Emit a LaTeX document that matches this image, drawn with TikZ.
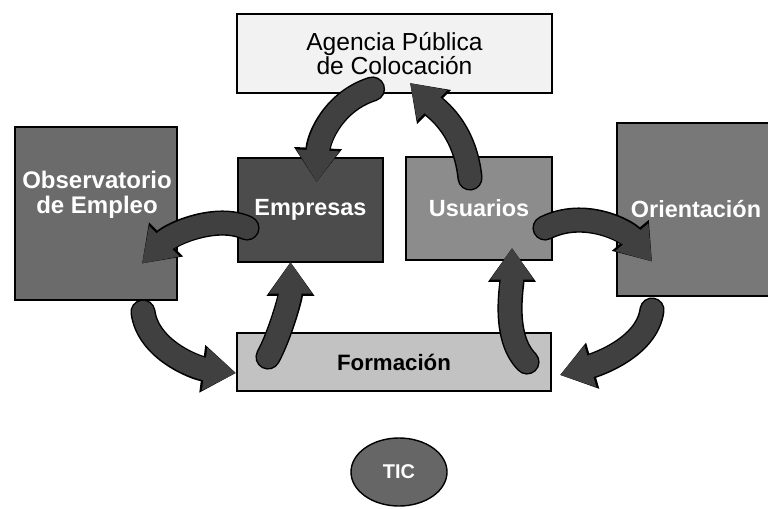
\documentclass[tikz,border=0pt]{standalone}
\usepackage{fontspec}
\setmainfont{Liberation Sans}
\usetikzlibrary{arrows.meta,shapes.geometric}
\definecolor{agencyfill}{gray}{0.95}
\definecolor{obsfill}{gray}{0.42}
\definecolor{empfill}{gray}{0.30}
\definecolor{usrfill}{gray}{0.55}
\definecolor{orifill}{gray}{0.47}
\definecolor{formfill}{gray}{0.76}
\definecolor{ticfill}{gray}{0.40}
\definecolor{arrowgray}{gray}{0.25}
\tikzset{
	box/.style={draw=black, line width=1.2pt, inner sep=0pt, outer sep=0pt},
	whitetext/.style={text=white, font=\fontsize{20}{22}\selectfont\bfseries, align=center},
	flow/.style={draw=arrowgray, line width=19pt, line cap=round, -{Triangle[length=27pt,width=35pt]},
		preaction={draw=black, line width=21.5pt, line cap=round, -{Triangle[length=29pt,width=39pt]}}}
}

\begin{document}
\begin{tikzpicture}[x=0.03cm, y=-0.03cm]
		\useasboundingbox (0,0) rectangle (768,508);
		\node[box, fill=agencyfill, minimum width=9.45cm, minimum height=2.37cm, align=center, font=\fontsize{21}{20}\selectfont] (agency) at (394.5,53.5) {Agencia P\'ublica\\de Colocaci\'on};
		\node[box, fill=obsfill, minimum width=4.86cm, minimum height=5.19cm] (obs) at (96,213.5) {};
		\node[whitetext, font=\fontsize{20.5}{21}\selectfont\bfseries] (obslabel) at (97,195) {Observatorio\\de Empleo};
		\node[box, fill=empfill, minimum width=4.35cm, minimum height=3.12cm, whitetext] (emp) at (310.5,210) {Empresas};
		\node[box, fill=usrfill, minimum width=4.38cm, minimum height=3.09cm, whitetext] (usr) at (479,208.5) {Usuarios};
		\node[box, fill=orifill, minimum width=4.74cm, minimum height=5.19cm, whitetext] (ori) at (696,209.5) {Orientaci\'on};
		\node[box, fill=formfill, minimum width=9.42cm, minimum height=1.74cm, font=\fontsize{19}{20}\selectfont\bfseries] (form) at (394,362) {Formaci\'on};
		\node[box, ellipse, fill=ticfill, minimum width=2.88cm, minimum height=2.04cm, whitetext, font=\fontsize{17}{18}\selectfont\bfseries] (tic) at (399,472) {TIC};
		\draw[flow] ([shift={(-22,-4)}]agency.south) .. controls +(-38,12) and +(2,-45) .. ([shift={(6,24)}]emp.north);
		\draw[flow] ([shift={(-9,21)}]usr.north) .. controls +(-5,-50) and +(25,25) .. ([shift={(15.5,-10)}]agency.south);
		\draw[flow] ([shift={(9,18)}]emp.west) .. controls +(-30,-14) and +(30,-30) .. ([shift={(-35,50)}]obs.east);
		\draw[flow] ([shift={(47,12)}]obs.south) .. controls +(5,38) and +(-40,-5) .. ([shift={(-1,11)}]form.west);
		\draw[flow] ([shift={(-126,24)}]form.north) .. controls +(12,-22) and +(0,35) .. ([shift={(-20,0)}]emp.south);
		\draw[flow] ([shift={(-7,19.5)}]usr.east) .. controls +(40,-20) and +(-25,-30) .. ([shift={(35,52)}]ori.west);
		\draw[flow] ([shift={(-44,14)}]ori.south) .. controls +(-5,38) and +(35,-10) .. ([shift={(9,13)}]form.east);
		\draw[flow] ([shift={(-24,29)}]form.north east) .. controls +(-25,-25) and +(0,38) .. ([shift={(33,-12)}]usr.south);
	\end{tikzpicture}
\end{document}
